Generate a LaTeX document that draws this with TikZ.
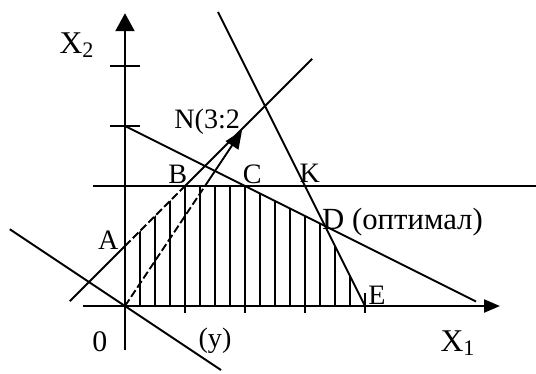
\documentclass[tikz,border=0pt]{standalone}
\usepackage{fontspec}
\setmainfont{Liberation Serif}
\usetikzlibrary{arrows.meta}
\tikzset{
  lp axis/.style={line width=1.3pt},
  lp line/.style={line width=1.1pt},
  lp dash/.style={line width=1.1pt, dash pattern=on 4.5pt off 1.8pt},
  lp hatch/.style={line width=0.8pt},
  lp tick/.style={line width=1.3pt},
  lp label/.style={inner sep=0pt, font=\fontsize{16}{18}\selectfont},
  lp axis label/.style={inner sep=0pt, font=\fontsize{18}{20}\selectfont},
}

\begin{document}
\begin{tikzpicture}[x=1.2cm, y=1.2cm]
  \useasboundingbox (-2.083,-1.117) rectangle (6.85,5.1);
  \coordinate (O) at (0,0);
  \coordinate (A) at (0,1);
  \coordinate (B) at (1,2);
  \coordinate (C) at (2,2);
  \coordinate (D) at (10/3,4/3);
  \coordinate (E) at (4,0);
  \coordinate (K) at (3,2);
  \coordinate (G) at (4/3,2);
  \coordinate (N) at (1.95,2.925);
  \coordinate (Q) at (0,3);
  \coordinate (ab start) at (-0.92,0.08);
  \coordinate (ab end) at (3.12,4.12);
  \coordinate (cd end) at (5.85,0.075);
  \coordinate (ke start) at (1.55,4.9);
  \coordinate (z start) at (-1.92,1.28);
  \coordinate (z end) at (1.6,-1.067);
  \begin{scope}
    \clip (O) -- (A) -- (B) -- (C) -- (D) -- (E) -- cycle;
    \foreach \x in {0.25,0.5,...,3.8}
      \draw[lp hatch] (\x,0) -- (\x,2.2);
  \end{scope}
  \draw[lp axis,-{Triangle[length=0.36cm,width=0.38cm]}] (0,-0.73) -- (0,4.88);
  \draw[lp axis,-{Triangle[length=0.32cm,width=0.26cm]}] (-0.7,0) -- (6.25,0);
  \foreach \y in {3,4}
    \draw[lp tick] (-0.25,\y) -- (0.25,\y);
  \foreach \x in {1,...,4}
    \draw[lp tick] (\x,0.22) -- (\x,-0.12);
  \draw[lp line] (-0.53,2) -- (6.85,2);
  \draw[lp line] (ab start) -- (A);
  \draw[lp dash] (A) -- (B);
  \draw[lp line] (B) -- (ab end);
  \draw[lp line] (Q) -- (cd end);
  \draw[lp line] (ke start) -- (E);
  \draw[lp line] (z start) -- (z end);
  \draw[lp dash] (O) -- (G);
  \draw[lp line,-{Triangle[length=0.36cm,width=0.3cm]}] (G) -- (N);
  \node[lp axis label] (x2 label) at (-0.8,4.35) {X\textsubscript{2}};
  \node[lp axis label] (x1 label) at (5.55,-0.62) {X\textsubscript{1}};
  \node[lp label] (n label) at (1.37,3.07) {N(3:2};
  \node[lp label] (a label) at (-0.28,1.1) {A};
  \node[lp label] (b label) at (0.88,2.2) {B};
  \node[lp label] (c label) at (2.12,2.2) {C};
  \node[lp label] (k label) at (3.08,2.22) {K};
  \node[lp label,anchor=base west,font=\fontsize{17.5}{19}\selectfont] (d label) at (3.28,1.27) {D (оптимал)};
  \node[lp label,anchor=base west] (e label) at (4.05,0.02) {E};
  \node[lp label,font=\fontsize{17}{19}\selectfont] (o label) at (-0.42,-0.6) {0};
  \node[lp label] (y label) at (1.5,-0.58) {(y)};
\end{tikzpicture}
\end{document}
